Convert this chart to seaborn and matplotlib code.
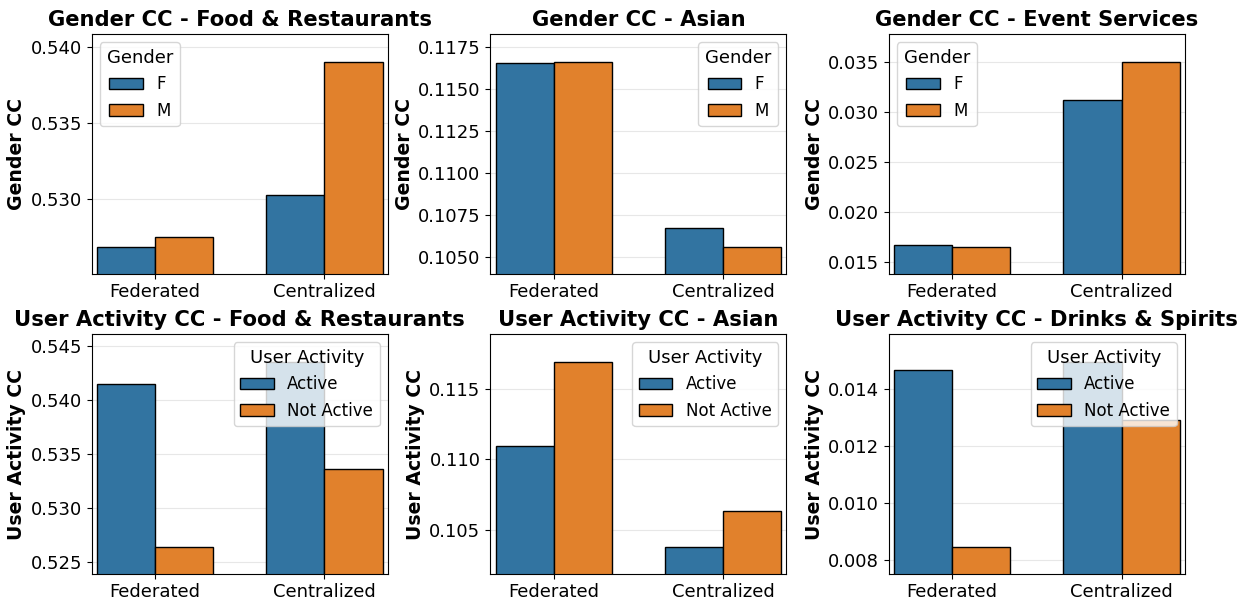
import matplotlib
matplotlib.use("Agg")
import matplotlib.pyplot as plt
import seaborn as sns
import pandas as pd

setups = ["Federated", "Centralized"]

# Gender groups
gender_levels = ["F", "M"]
food_gender_F = [0.52689, 0.53028]
food_gender_M = [0.52755, 0.53902]
asian_gender_F = [0.11651, 0.10670]
asian_gender_M = [0.11660, 0.10560]
event_gender_F = [0.01674, 0.03117]
event_gender_M = [0.01654, 0.03500]

# User activity groups
activity_levels = ["Active", "Not Active"]
food_act_A = [0.54148, 0.54355]
food_act_N = [0.52639, 0.53361]
asian_act_A = [0.11090, 0.10379]
asian_act_N = [0.11692, 0.10635]
drinks_act_A = [0.01467, 0.01495]
drinks_act_N = [0.00848, 0.01292]

panels = [
    ("Gender CC - Food & Restaurants", "Gender", gender_levels, food_gender_F, food_gender_M, "upper left"),
    ("Gender CC - Asian", "Gender", gender_levels, asian_gender_F, asian_gender_M, "upper right"),
    ("Gender CC - Event Services", "Gender", gender_levels, event_gender_F, event_gender_M, "upper left"),
    ("User Activity CC - Food & Restaurants", "User Activity", activity_levels, food_act_A, food_act_N, "upper right"),
    ("User Activity CC - Asian", "User Activity", activity_levels, asian_act_A, asian_act_N, "upper right"),
    ("User Activity CC - Drinks & Spirits", "User Activity", activity_levels, drinks_act_A, drinks_act_N, "upper right"),
]

fig, axes = plt.subplots(2, 3, figsize=(12.47, 5.99), dpi=100)
fig.subplots_adjust(left=0.0735, right=0.9503, top=0.9432, bottom=0.0412,
                    wspace=0.345, hspace=0.248)

for ax, (title, group, levels, first, second, loc) in zip(axes.flat, panels):
    df = pd.DataFrame({
        "Setup": setups * 2,
        group: [levels[0]] * 2 + [levels[1]] * 2,
        "CC": list(first) + list(second),
    })
    sns.barplot(data=df, x="Setup", y="CC", hue=group, order=setups,
                hue_order=levels, width=0.686, edgecolor="black",
                linewidth=1.0, ax=ax)
    vals = df["CC"]
    lo, hi = vals.min(), vals.max()
    pad = 0.15 * (hi - lo)
    ax.set_ylim(lo - pad, hi + pad)
    ax.set_xlim(-0.375, 1.375)
    ax.set_axisbelow(True)
    ax.grid(axis="y", alpha=0.3)
    ax.set_title(title, fontsize=15.2, fontweight="bold")
    ax.set_xlabel("")
    ax.set_ylabel(f"{group} CC", fontsize=13.6, fontweight="bold", labelpad=3)
    ax.tick_params(axis="both", labelsize=13)
    ax.tick_params(axis="x", pad=3)
    ax.legend(title=group, loc=loc, fontsize=12, title_fontsize=13)

fig.savefig("out.png", dpi=100)
